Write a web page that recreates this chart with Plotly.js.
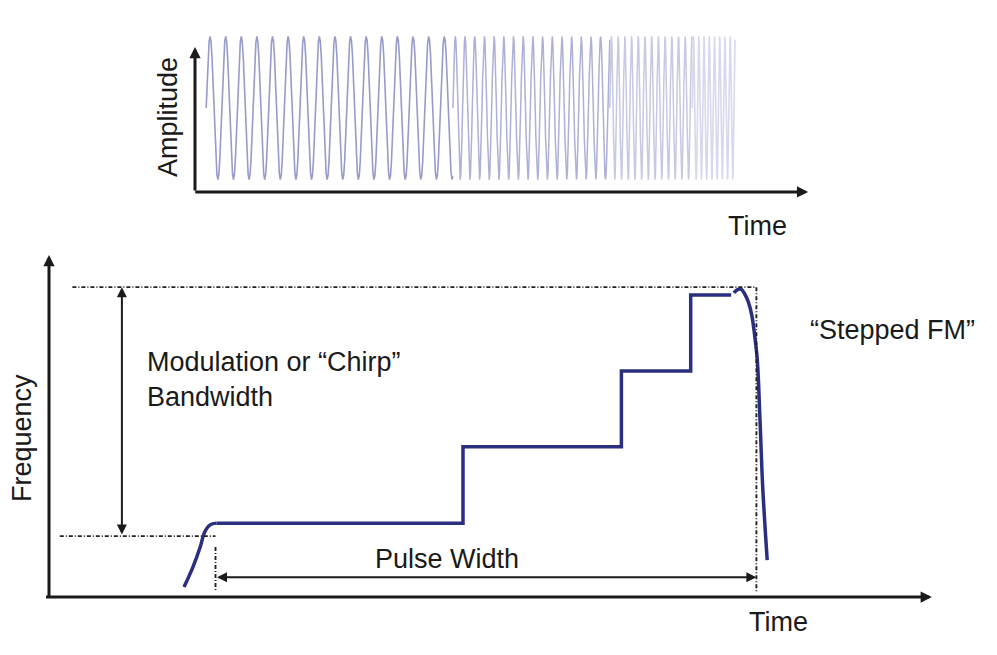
<!DOCTYPE html>
<html><head><meta charset="utf-8">
<script src="https://cdn.plot.ly/plotly-3.0.1.min.js"></script>
<style>html,body{margin:0;padding:0;background:#fff}</style>
</head><body><div id="chart" style="width:997px;height:655px"></div>
<script>
// ---------- data ----------
// bottom panel: frequency vs time (arbitrary units)
const riseTime = [15.0, 16.0, 16.8, 17.3, 17.9, 18.6];
const riseFreq = [2.9, 8.8, 14.6, 19.0, 21.1, 21.6];
const stepTime = [18.6, 46.0, 46.0, 63.6, 63.6, 71.3, 71.3, 75.8];
const stepFreq = [21.6, 21.6, 43.9, 43.9, 66.1, 66.1, 88.3, 88.3];
const tailTime = [76.1, 76.5, 76.9, 77.3, 77.7, 78.1, 78.4, 78.7, 79.0, 79.3, 79.8];
const tailFreq = [88.9, 89.9, 90.0, 88.6, 86.3, 82.2, 76.6, 69.3, 51.8, 32.2, 10.8];
const pulseStart = 18.5, pulseEnd = 78.6;
const freqMin = 17.8, freqMax = 90.6;
const bandwidthArrowTime = 8.1, pulseArrowFreq = 5.8;

// top panel: stepped-frequency waveform, one segment per frequency step
const waveSegStart = [1.8, 41.6, 66.9, 80.2];
const waveSegEnd = [41.6, 66.9, 80.2, 87.1];
const waveCycles = [15.8, 16.2, 12.3, 8.2];
const waveAmp = 1.0;

// labels
const labels = {
  amp: 'Amplitude', time: 'Time', freq: 'Frequency',
  bw: 'Modulation or \u201cChirp\u201d<br>Bandwidth',
  pw: 'Pulse Width', fm: '\u201cStepped FM\u201d'
};

// ---------- styles ----------
const W = 997, H = 655;
const fx = p => p / W, fy = p => 1 - p / H;
const navy = '#2b2f80';
const ink = '#1a1a1a';
const waveColors = ['#989bc9', '#adb0d7', '#c6c8e4', '#d6d8ee'];
const waveWidths = [1.6, 1.5, 1.5, 1.6];
const font = {family: 'Liberation Sans, Arial, sans-serif', size: 27, color: ink};
const dashStyle = '4px,2px,1px,2px';

const traces = [];
// waveform traces
for (let s = 0; s < waveSegStart.length; s++) {
  const xs = [], ys = [];
  const n = Math.round(waveCycles[s] * 16);
  for (let i = 0; i <= n; i++) {
    const f = i / n;
    xs.push(waveSegStart[s] + f * (waveSegEnd[s] - waveSegStart[s]));
    ys.push(waveAmp * Math.sin(2 * Math.PI * waveCycles[s] * f));
  }
  traces.push({x: xs, y: ys, xaxis: 'x2', yaxis: 'y2', mode: 'lines',
    line: {color: waveColors[s], width: waveWidths[s]}, hoverinfo: 'skip'});
}
traces.push({x: riseTime, y: riseFreq, mode: 'lines', line: {color: navy, width: 3.5, shape: 'spline'}, hoverinfo: 'skip'});
traces.push({x: stepTime, y: stepFreq, mode: 'lines', line: {color: navy, width: 3.5}, hoverinfo: 'skip'});
traces.push({x: tailTime, y: tailFreq, mode: 'lines', line: {color: navy, width: 3.5, shape: 'spline'}, hoverinfo: 'skip'});

const hiddenAxis = {showgrid: false, zeroline: false, showticklabels: false, showline: false, ticks: '', fixedrange: true};

const dash = (x0, y0, x1, y1) => ({type: 'line', xref: 'x', yref: 'y', x0, y0, x1, y1,
  line: {color: '#222', width: 1.9, dash: dashStyle}});

const shapes = [
  dash(2.6, freqMax, pulseEnd, freqMax),
  dash(1.2, freqMin, pulseStart, freqMin),
  dash(pulseStart, 14.6, pulseStart, 2.0),
  dash(pulseEnd, freqMax, pulseEnd, 1.5)
];

const arrow = (xr, yr, x, y, ax, ay, w, sz, both) => Object.assign({
  xref: xr, yref: yr, axref: xr, ayref: yr, x, y, ax, ay, text: '', showarrow: true,
  arrowhead: 2, arrowsize: sz, arrowwidth: w, arrowcolor: ink, standoff: 0, startstandoff: 0
}, both ? {arrowside: 'end+start', startarrowhead: 2, startarrowsize: sz} : {});

const txt = (text, px, py, extra) => Object.assign({xref: 'paper', yref: 'paper', x: fx(px), y: fy(py),
  text, showarrow: false, font, xanchor: 'center', yanchor: 'middle'}, extra || {});

const annotations = [
  // axes of bottom panel
  arrow('x', 'y', 0, 100, 0, -0.5, 3, 0.75, false),
  arrow('x', 'y', 98.1, 0, -0.5, 0, 3, 0.75, false),
  // axes of top panel
  arrow('x2', 'y2', 0, 0.85, 0, -1.172, 3, 0.75, false),
  arrow('x2', 'y2', 98.9, -1.172, -0.2, -1.172, 3, 0.75, false),
  // bandwidth and pulse width arrows
  arrow('x', 'y', bandwidthArrowTime, freqMax, bandwidthArrowTime, freqMin, 2, 1.0, true),
  arrow('x', 'y', pulseEnd, pulseArrowFreq, pulseStart, pulseArrowFreq, 2, 1.0, true),
  // texts
  txt(labels.amp, 168, 117, {textangle: -90}),
  txt(labels.time, 757, 226),
  txt(labels.freq, 22, 438, {textangle: -90}),
  txt(labels.time, 778, 622),
  txt(labels.bw, 145, 379, {xanchor: 'left', align: 'left'}),
  txt(labels.pw, 447, 559),
  txt(labels.fm, 892, 330)
];

const layout = {
  width: W, height: H, margin: {l: 0, r: 0, t: 0, b: 0},
  paper_bgcolor: '#fff', plot_bgcolor: 'rgba(0,0,0,0)', showlegend: false,
  xaxis: Object.assign({domain: [fx(49), fx(949)], range: [0, 100]}, hiddenAxis),
  yaxis: Object.assign({domain: [fy(597), fy(255)], range: [0, 100]}, hiddenAxis),
  xaxis2: Object.assign({domain: [fx(195), fx(815)], range: [0, 100], anchor: 'y2'}, hiddenAxis),
  yaxis2: Object.assign({domain: [fy(194), fy(22)], range: [-1.2, 1.2], anchor: 'x2'}, hiddenAxis),
  shapes, annotations
};

Plotly.newPlot('chart', traces, layout, {displayModeBar: false, staticPlot: true});
</script></body></html>
